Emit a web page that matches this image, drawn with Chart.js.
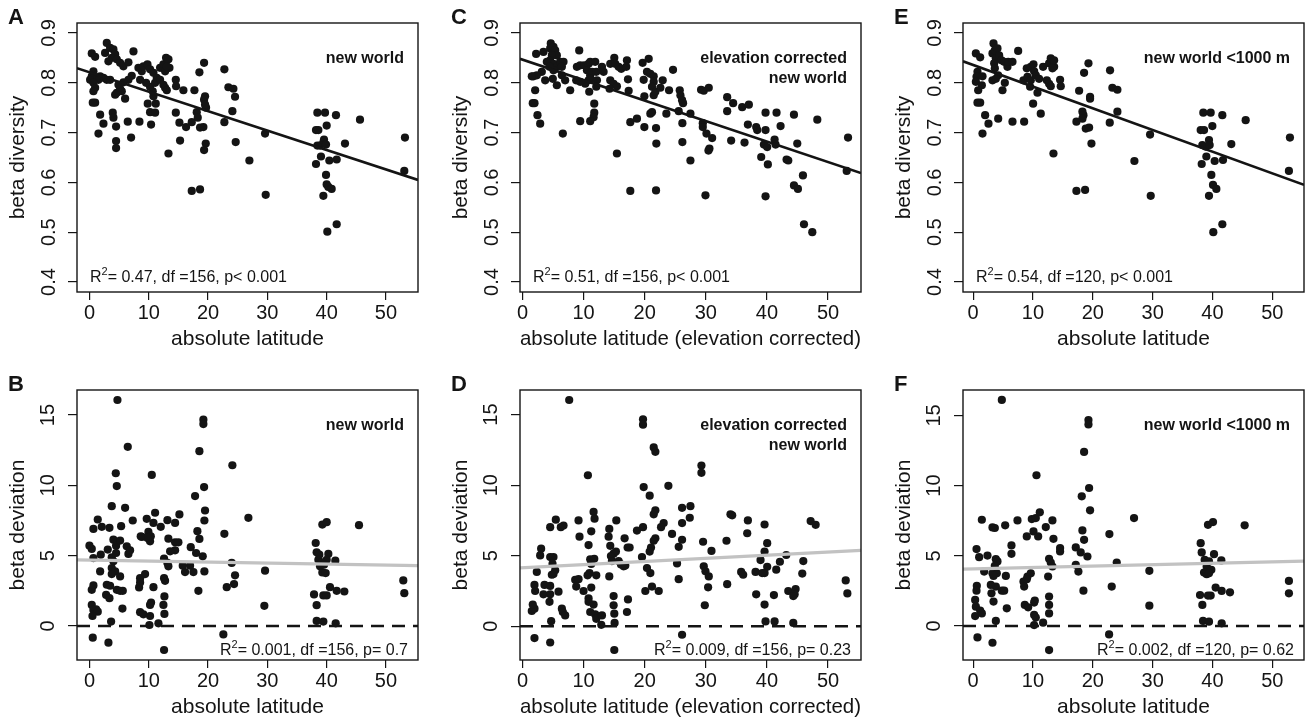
<!DOCTYPE html>
<html>
<head>
<meta charset="utf-8">
<title>beta diversity vs latitude</title>
<script src="https://cdn.jsdelivr.net/npm/chart.js@4.4.1/dist/chart.umd.min.js"></script>
<style>
  html, body { margin: 0; padding: 0; background: #fff; overflow: hidden; width: 1306px; height: 720px; }
  canvas { position: absolute; }
</style>
</head>
<body>
<canvas id="cA" width="428" height="356" style="left:0px;top:0px"></canvas>
<canvas id="cC" width="428" height="356" style="left:443px;top:0px"></canvas>
<canvas id="cE" width="428" height="356" style="left:886px;top:0px"></canvas>
<canvas id="cB" width="428" height="364" style="left:0px;top:360px"></canvas>
<canvas id="cD" width="428" height="364" style="left:443px;top:360px"></canvas>
<canvas id="cF" width="428" height="364" style="left:886px;top:360px"></canvas>
<script>
// tick labels
const xTicks = [0, 10, 20, 30, 40, 50];
const betaTicks = [0.4, 0.5, 0.6, 0.7, 0.8, 0.9];
const devTicks = [0, 5, 10, 15];

// A: beta diversity, new world
const latA = [0.39,0.96,2.92,2.64,3.48,4.04,4.33,3.76,3.20,4.61,5.17,5.73,6.57,7.42,7.13,6.57,5.73,4.89,5.17,4.61,
  5.45,6.01,4.33,3.48,2.92,2.36,1.80,1.52,1.24,0.67,0.39,0.11,0.67,0.96,0.67,0.96,0.56,1.80,2.36,1.52,
  3.93,4.04,4.49,4.49,4.49,6.46,7.02,8.43,10.39,10.22,11.07,11.18,9.83,10.79,10.67,10.22,9.55,8.54,8.82,8.26,
  9.10,9.78,10.22,10.79,11.35,11.07,11.91,12.47,12.76,13.04,11.91,12.47,12.92,13.32,13.49,12.76,13.04,14.56,14.61,15.84,
  14.56,15.17,15.28,16.29,17.25,17.70,18.09,18.54,19.33,19.49,19.33,19.66,19.49,18.26,18.65,19.21,19.61,19.33,13.32,17.25,
  18.65,22.75,23.43,24.27,24.55,24.10,22.75,24.66,26.97,29.61,29.72,38.43,39.72,40.00,41.57,45.62,38.20,38.60,39.55,39.44,
  38.88,38.43,39.89,43.09,39.04,38.20,40.45,41.69,39.89,40.00,40.28,40.84,39.44,40.11,41.69,53.20,53.09];
const betaA = [0.859,0.852,0.880,0.860,0.870,0.867,0.857,0.850,0.843,0.847,0.840,0.833,0.841,0.863,0.814,0.806,0.801,0.796,0.788,0.780,
  0.783,0.768,0.776,0.806,0.806,0.810,0.813,0.806,0.810,0.823,0.813,0.806,0.800,0.790,0.783,0.760,0.760,0.736,0.718,0.698,
  0.740,0.730,0.712,0.683,0.669,0.722,0.690,0.722,0.716,0.741,0.740,0.758,0.758,0.773,0.783,0.792,0.800,0.806,0.823,0.830,
  0.833,0.837,0.827,0.820,0.810,0.800,0.806,0.796,0.790,0.785,0.830,0.837,0.850,0.847,0.830,0.823,0.833,0.806,0.793,0.785,
  0.740,0.720,0.684,0.711,0.721,0.785,0.741,0.821,0.840,0.773,0.766,0.750,0.756,0.730,0.710,0.711,0.678,0.665,0.658,0.583,
  0.586,0.827,0.791,0.788,0.772,0.743,0.721,0.681,0.644,0.698,0.575,0.740,0.740,0.714,0.735,0.726,0.705,0.705,0.686,0.680,
  0.674,0.674,0.676,0.678,0.652,0.637,0.644,0.646,0.615,0.596,0.591,0.587,0.573,0.501,0.516,0.690,0.623];

// B: beta deviation, new world
const latB = [4.72,6.46,4.44,4.61,3.76,6.01,5.34,7.30,1.40,0.67,2.08,3.37,10.51,9.66,11.07,10.79,12.02,8.82,9.94,10.22,
  10.34,13.15,14.44,15.17,14.44,14.44,13.31,13.60,17.81,19.33,18.54,19.21,19.21,19.49,19.38,18.20,18.54,17.08,17.98,19.10,
  15.00,22.75,24.10,26.80,23.99,24.55,23.15,24.38,29.61,29.49,22.58,45.45,39.27,40.00,38.15,38.31,38.76,40.28,38.60,40.00,
  39.16,41.46,38.88,39.55,39.27,39.83,40.56,41.69,42.98,37.87,39.44,40.00,38.31,38.31,39.44,41.52,52.92,53.09,0.00,0.39,
  0.67,1.91,3.09,3.76,4.04,4.49,4.04,4.49,5.17,6.29,6.57,6.85,3.76,4.33,3.76,5.17,1.80,4.61,5.17,5.62,
  2.92,3.48,2.81,3.37,0.39,0.67,0.39,0.67,1.12,1.40,0.51,3.65,0.56,3.20,5.56,8.54,8.37,8.54,9.38,10.79,
  10.39,10.22,8.54,9.10,10.22,10.11,11.63,12.58,12.75,13.31,13.15,12.58,12.64,12.47,12.64,12.58,15.73,16.12,16.97,17.53,
  18.37,19.38,9.78,8.65];
const devB = [16.07,12.74,10.86,9.95,8.52,8.40,7.10,7.50,7.57,6.90,7.05,6.98,10.74,7.62,8.05,7.33,7.05,6.33,6.69,6.02,
  6.38,7.52,7.33,7.93,5.95,5.38,6.21,5.31,9.24,9.88,12.43,14.67,14.36,8.21,7.50,6.74,6.19,5.60,5.19,4.95,
  5.95,6.55,11.43,7.69,4.48,3.60,2.76,2.98,3.93,1.43,-0.60,7.17,7.21,7.38,5.90,5.24,5.07,5.12,4.71,4.71,
  4.52,4.64,4.24,4.36,3.81,3.76,2.76,2.50,2.45,2.24,2.17,2.17,1.48,0.36,0.31,0.19,3.24,2.33,5.71,5.48,
  4.83,5.07,5.43,4.88,4.60,5.19,6.14,5.71,6.07,5.67,5.12,5.38,4.12,3.88,3.69,3.52,3.88,2.57,2.50,2.50,
  2.93,2.86,2.21,1.98,2.57,2.88,1.50,1.14,1.19,1.02,0.71,0.31,-0.83,-1.19,1.24,3.40,2.74,3.10,3.69,2.76,
  1.67,1.50,0.98,0.83,0.71,0.07,0.19,3.40,3.21,4.24,4.48,4.79,2.10,1.50,0.86,-1.71,4.29,3.83,4.29,3.83,
  2.50,3.88,6.26,6.38];

// C: beta diversity, elevation corrected
const latC = [2.24,3.44,4.64,4.54,5.08,5.36,5.63,4.81,4.54,5.08,5.63,6.17,6.72,6.45,5.08,3.99,4.43,4.97,5.63,6.45,
  6.99,7.81,3.72,3.17,2.35,1.80,1.53,2.08,1.69,1.97,2.46,2.90,6.61,9.29,8.91,9.45,10.11,10.82,11.09,11.91,
  10.55,11.09,11.37,10.82,10.27,9.45,8.80,11.09,12.08,12.19,12.08,10.93,11.75,11.75,11.64,11.09,9.45,13.01,13.28,14.37,
  15.03,15.19,15.74,16.17,17.10,16.99,14.37,14.92,15.46,14.26,17.27,17.38,15.46,17.65,18.74,17.65,19.67,20.66,20.38,20.93,
  21.48,19.84,21.48,21.20,21.48,21.75,19.95,20.93,21.20,19.95,21.86,21.91,21.86,22.95,22.57,23.55,23.99,24.64,25.74,25.85,
  26.12,26.28,25.57,26.17,26.17,27.49,27.49,29.23,29.67,30.49,29.51,29.51,30.11,31.04,30.60,30.44,29.95,33.50,34.48,33.50,
  35.96,37.05,34.15,36.34,36.89,38.25,38.42,39.78,39.78,41.58,42.24,44.43,44.97,48.25,41.26,41.42,39.51,40.05,39.07,40.16,
  39.78,43.22,43.50,45.90,44.43,45.08,46.07,47.43,53.28,53.06];
const betaC = [0.858,0.862,0.879,0.869,0.872,0.865,0.855,0.855,0.845,0.838,0.832,0.842,0.842,0.832,0.825,0.842,0.832,0.808,0.795,0.815,
  0.805,0.785,0.805,0.822,0.815,0.813,0.813,0.785,0.759,0.759,0.735,0.718,0.698,0.865,0.832,0.835,0.835,0.838,0.842,0.842,
  0.825,0.815,0.822,0.805,0.798,0.802,0.805,0.808,0.822,0.805,0.792,0.782,0.758,0.740,0.731,0.723,0.723,0.832,0.822,0.838,
  0.850,0.838,0.832,0.828,0.845,0.832,0.805,0.798,0.793,0.788,0.807,0.784,0.658,0.721,0.728,0.583,0.840,0.848,0.822,0.818,
  0.813,0.806,0.802,0.792,0.775,0.782,0.773,0.738,0.741,0.711,0.709,0.678,0.584,0.805,0.790,0.738,0.785,0.826,0.785,0.775,
  0.765,0.759,0.743,0.719,0.681,0.738,0.644,0.786,0.784,0.790,0.719,0.711,0.698,0.689,0.668,0.664,0.574,0.771,0.759,0.743,
  0.751,0.756,0.684,0.680,0.716,0.711,0.705,0.740,0.705,0.740,0.713,0.736,0.678,0.726,0.686,0.676,0.676,0.671,0.651,0.636,
  0.572,0.646,0.644,0.614,0.594,0.587,0.516,0.500,0.690,0.623];

// D: beta deviation, elevation corrected
const latD = [7.65,10.71,19.73,19.73,21.48,21.75,29.29,29.29,23.88,19.84,20.82,21.75,21.48,27.49,26.12,26.12,27.38,23.11,22.68,19.73,
  18.74,24.48,26.12,25.57,21.75,21.48,21.04,20.82,19.56,20.38,20.93,21.20,22.30,20.11,25.30,25.57,29.56,30.93,29.67,29.95,
  30.49,30.38,29.84,33.39,34.04,34.32,36.89,36.78,39.62,40.05,39.62,38.96,40.05,39.62,38.14,39.23,35.79,36.12,33.50,38.25,
  39.62,41.15,41.53,42.13,43.17,45.96,45.79,43.50,44.70,44.54,44.32,52.90,53.17,47.16,47.98,39.78,41.26,44.32,3.06,2.90,
  4.54,5.08,4.92,5.36,5.08,4.81,2.35,1.97,2.08,3.61,3.44,4.54,4.54,4.43,5.90,6.45,6.61,6.99,1.53,1.97,
  1.69,4.70,1.97,4.54,4.54,5.46,6.28,6.72,9.18,9.34,8.63,9.18,8.80,10.00,10.82,10.98,11.09,11.75,11.26,10.82,
  11.26,11.64,11.80,10.66,12.08,11.26,10.82,11.64,11.09,11.91,12.08,13.01,12.90,14.21,14.10,14.37,14.92,15.30,15.36,14.48,
  14.64,15.74,16.12,16.56,16.83,17.21,17.54,16.72,14.21,14.92,14.92,15.03,15.08,17.27,17.10,15.03,26.12];
const devD = [16.03,10.70,14.66,14.28,12.67,12.36,11.39,10.87,9.95,9.86,9.25,8.22,7.93,8.51,8.39,7.31,7.69,7.31,7.02,7.02,
  6.78,6.54,6.13,5.63,6.23,6.06,5.58,5.29,4.90,4.13,3.77,2.81,2.50,2.50,4.45,3.34,5.99,5.34,4.25,3.89,
  3.53,2.76,1.49,6.06,7.93,7.86,7.50,6.59,7.21,5.89,5.29,4.69,4.21,3.77,3.85,3.77,3.85,3.65,2.98,2.26,
  1.54,2.21,4.01,4.57,5.05,4.62,3.73,2.50,2.64,2.26,2.14,3.25,2.33,7.45,7.19,0.34,0.34,0.24,5.50,5.02,
  4.90,4.90,4.42,3.97,3.70,3.65,3.85,2.93,2.50,2.93,2.26,2.86,2.26,1.73,2.45,1.25,1.01,0.77,1.08,1.25,
  1.54,0.36,-0.84,-1.15,7.02,7.55,7.02,7.14,7.50,6.35,3.29,3.34,2.81,2.50,1.97,3.77,4.74,4.78,4.42,5.75,
  6.73,8.10,7.62,3.61,3.61,2.74,1.73,1.54,1.01,0.84,0.53,0.77,0.10,6.90,6.35,5.70,5.14,5.29,7.50,4.98,
  4.62,4.62,4.38,4.25,4.30,5.58,5.58,6.23,3.53,2.14,1.49,0.89,0.24,1.90,1.01,-1.68,-0.60];

// E: beta diversity, new world < 1000 m
const latE = [0.45,1.17,0.72,0.56,0.45,1.56,1.45,0.84,0.72,1.17,2.00,2.56,1.56,3.40,3.23,3.62,4.06,3.79,4.34,4.73,
  5.18,3.51,3.62,4.18,3.23,3.79,4.90,5.29,5.73,5.85,6.57,7.52,4.18,6.57,8.52,8.41,8.96,9.63,10.08,10.19,
  10.47,9.52,9.08,9.63,11.02,10.75,10.02,11.30,11.69,12.31,12.69,12.97,12.69,12.97,13.53,13.53,13.25,14.53,14.64,13.42,
  17.71,18.54,19.27,18.26,18.43,18.26,17.26,18.82,19.38,19.54,19.54,19.77,17.26,18.71,22.88,23.27,24.11,24.11,22.83,26.95,
  29.57,29.68,38.47,39.70,38.03,38.59,38.31,38.86,39.42,39.53,39.98,41.65,43.15,45.55,38.98,38.20,40.37,41.76,39.81,40.09,
  40.65,39.42,40.14,41.65,52.95,52.78];
const betaE = [0.859,0.851,0.822,0.812,0.802,0.813,0.795,0.785,0.760,0.760,0.735,0.718,0.698,0.879,0.859,0.865,0.869,0.849,0.855,0.845,
  0.842,0.839,0.829,0.815,0.805,0.808,0.785,0.800,0.832,0.842,0.842,0.864,0.728,0.722,0.722,0.805,0.829,0.832,0.837,0.823,
  0.815,0.792,0.812,0.805,0.808,0.780,0.758,0.738,0.832,0.805,0.798,0.793,0.839,0.849,0.832,0.845,0.829,0.806,0.793,0.658,
  0.784,0.820,0.839,0.742,0.735,0.728,0.722,0.708,0.710,0.772,0.768,0.678,0.583,0.585,0.825,0.790,0.786,0.742,0.720,0.643,
  0.696,0.573,0.740,0.740,0.705,0.705,0.675,0.672,0.685,0.675,0.713,0.735,0.677,0.725,0.652,0.637,0.643,0.645,0.615,0.595,
  0.587,0.573,0.500,0.516,0.690,0.623];

// F: beta deviation, new world < 1000 m
const latF = [4.79,1.45,3.23,3.62,5.35,7.41,6.40,6.40,2.39,0.56,1.00,3.79,4.06,3.62,3.23,3.95,3.40,1.84,5.46,3.79,
  2.95,3.06,3.40,0.61,0.56,0.33,0.45,1.17,1.45,0.33,0.72,3.23,3.79,5.62,4.79,5.18,8.41,8.52,9.08,9.63,
  8.96,8.63,9.19,10.19,10.30,10.19,10.47,10.19,11.69,12.69,9.80,10.47,10.08,10.86,8.96,11.14,10.58,12.14,13.25,13.42,
  12.69,12.97,13.25,12.53,12.69,12.69,12.69,14.53,14.53,17.15,17.98,17.59,17.15,18.26,18.54,19.10,18.43,19.38,18.15,19.54,
  18.54,19.27,19.27,22.77,24.00,23.16,22.72,26.89,29.45,29.45,45.38,39.25,40.09,38.03,38.20,38.70,40.26,39.42,39.03,39.81,
  38.59,39.03,39.42,41.48,40.53,39.70,39.25,37.92,41.54,42.93,38.31,38.42,39.42,41.54,52.78,52.78];
const devF = [16.10,7.57,7.02,6.98,7.17,7.52,5.74,5.14,5.02,5.48,4.90,4.76,4.60,4.29,3.76,3.76,3.57,3.88,3.57,2.81,
  2.93,2.33,1.74,2.86,2.52,1.86,1.38,1.10,0.90,0.71,-0.81,-1.19,0.36,1.26,2.52,2.52,3.17,2.81,3.52,3.76,
  3.33,1.50,1.33,1.67,1.81,0.79,0.60,0.07,0.24,-1.71,7.62,7.69,6.74,6.38,6.38,8.10,10.74,7.05,7.52,6.21,
  4.79,4.52,4.24,3.52,2.10,1.50,0.90,5.55,5.31,5.60,5.24,3.88,4.36,6.81,6.14,4.95,2.52,9.83,9.24,8.24,
  12.40,14.67,14.36,6.55,4.52,2.81,-0.60,7.69,3.93,1.45,7.17,7.21,7.40,5.90,5.24,4.71,5.12,4.60,4.24,4.00,
  3.81,3.69,3.76,4.67,2.74,2.17,2.17,2.21,2.50,2.40,1.50,0.36,0.31,0.19,3.21,2.33];

// fitted lines: [intercept, slope]
const fitA = [0.821, -0.0039];
const fitB = [4.69, -0.0073];
const fitC = [0.8464, -0.00411];
const fitD = [4.14, 0.0224];
const fitE = [0.8357, -0.00435];
const fitF = [4.07, 0.0100];

const FONT = "'Liberation Sans', Arial, Helvetica, sans-serif";
const INK = '#141414';

function fitLine(fit, xMin, xMax) {
  return [xMin, xMax].map(x => ({ x: x, y: fit[0] + fit[1] * x }));
}

// box, panel letter, subset label and fit statistics
const annotate = {
  id: 'annotate',
  afterDatasetsDraw(chart, args, o) {
    const ctx = chart.ctx, a = chart.chartArea;
    ctx.save();
    ctx.strokeStyle = INK;
    ctx.lineWidth = 1.4;
    ctx.strokeRect(a.left, a.top, a.right - a.left, a.bottom - a.top);
    ctx.fillStyle = INK;
    ctx.textBaseline = 'alphabetic';

    ctx.font = 'bold 22px ' + FONT;
    ctx.textAlign = 'left';
    ctx.fillText(o.letter, 8, a.top + 1);

    ctx.font = 'bold 16px ' + FONT;
    ctx.textAlign = 'right';
    o.label.forEach((t, i) => ctx.fillText(t, a.right - 14, a.top + 40 + i * 20));

    ctx.textAlign = 'left';
    const big = '16px ' + FONT, small = '11px ' + FONT;
    ctx.font = big;
    const wR = ctx.measureText('R').width, wRest = ctx.measureText(o.stats).width;
    ctx.font = small;
    const w2 = ctx.measureText('2').width;
    let x = o.statsRight ? a.right - 10 - (wR + w2 + wRest) : a.left + 13;
    const y = o.statsRight ? a.bottom - 5 : a.bottom - 10;
    ctx.font = big;
    ctx.fillText('R', x, y);
    x += wR;
    ctx.font = small;
    ctx.fillText('2', x, y - 7);
    x += w2;
    ctx.font = big;
    ctx.fillText(o.stats, x, y);
    ctx.restore();
  }
};

function makePanel(p) {
  const pts = p.xs.map((x, i) => ({ x: x, y: p.ys[i] }));
  const datasets = [
    { type: 'line', data: fitLine(p.fit, p.xMin, p.xMax), borderColor: p.diversity ? INK : '#c2c2c2',
      borderWidth: p.diversity ? 2.6 : 3.2, pointRadius: 0, fill: false, order: 0 },
    { data: pts, pointRadius: 4.1, pointBackgroundColor: INK, pointBorderWidth: 0, order: 2 }
  ];
  if (!p.diversity) {
    datasets.push({ type: 'line', data: [{ x: p.xMin, y: 0 }, { x: p.xMax, y: 0 }], borderColor: INK,
      borderWidth: 2.6, borderDash: [13, 8], pointRadius: 0, fill: false, order: 1 });
  }
  const yTicks = p.diversity ? betaTicks : devTicks;
  new Chart(document.getElementById(p.id), {
    type: 'scatter',
    data: { datasets: datasets },
    plugins: [annotate],
    options: {
      responsive: false,
      animation: false,
      events: [],
      layout: { padding: { top: p.diversity ? 23 : 30, right: 10, left: 0, bottom: 0 } },
      plugins: {
        legend: { display: false },
        tooltip: { enabled: false },
        annotate: { letter: p.letter, label: p.label, stats: p.stats, statsRight: !p.diversity }
      },
      scales: {
        x: {
          type: 'linear', min: p.xMin, max: p.xMax,
          afterBuildTicks: s => { s.ticks = xTicks.map(v => ({ value: v })); },
          afterFit: s => { s.height = 64; },
          border: { display: false },
          grid: { drawOnChartArea: false, drawTicks: true, tickLength: 8, color: INK, lineWidth: 1.2 },
          ticks: { color: INK, padding: 1.5, font: { family: FONT, size: 20 }, callback: v => String(v) },
          title: { display: true, text: p.xTitle, color: INK, font: { family: FONT, size: 21 }, padding: { top: 0, bottom: 4 } }
        },
        y: {
          type: 'linear', min: p.yMin, max: p.yMax,
          afterBuildTicks: s => { s.ticks = yTicks.map(v => ({ value: v })); },
          afterFit: s => { s.width = 77; },
          border: { display: false },
          grid: { drawOnChartArea: false, drawTicks: true, tickLength: 9, color: INK, lineWidth: 1.2 },
          ticks: { color: INK, minRotation: 90, maxRotation: 90, crossAlign: 'center', padding: p.diversity ? 5 : 8,
                   font: { family: FONT, size: 20 }, callback: v => p.diversity ? v.toFixed(1) : String(v) },
          title: { display: true, text: p.diversity ? 'beta diversity' : 'beta deviation', color: INK,
                   font: { family: FONT, size: 21 }, padding: { top: 6, bottom: 0 } }
        }
      }
    }
  });
}

const latTitle = 'absolute latitude';
const elevTitle = 'absolute latitude (elevation corrected)';

makePanel({ id: 'cA', letter: 'A', diversity: true, xs: latA, ys: betaA, fit: fitA, xMin: -2.1, xMax: 55.4, yMin: 0.38, yMax: 0.92,
  xTitle: latTitle, label: ['new world'], stats: '= 0.47, df =156, p< 0.001' });
makePanel({ id: 'cB', letter: 'B', diversity: false, xs: latB, ys: devB, fit: fitB, xMin: -2.1, xMax: 55.4, yMin: -2.42, yMax: 16.78,
  xTitle: latTitle, label: ['new world'], stats: '= 0.001, df =156, p= 0.7' });
makePanel({ id: 'cC', letter: 'C', diversity: true, xs: latC, ys: betaC, fit: fitC, xMin: -0.4, xMax: 55.4, yMin: 0.38, yMax: 0.92,
  xTitle: elevTitle, label: ['elevation corrected', 'new world'], stats: '= 0.51, df =156, p< 0.001' });
makePanel({ id: 'cD', letter: 'D', diversity: false, xs: latD, ys: devD, fit: fitD, xMin: -0.4, xMax: 55.4, yMin: -2.39, yMax: 16.74,
  xTitle: elevTitle, label: ['elevation corrected', 'new world'], stats: '= 0.009, df =156, p= 0.23' });
makePanel({ id: 'cE', letter: 'E', diversity: true, xs: latE, ys: betaE, fit: fitE, xMin: -1.7, xMax: 55.3, yMin: 0.38, yMax: 0.92,
  xTitle: latTitle, label: ['new world <1000 m'], stats: '= 0.54, df =120, p< 0.001' });
makePanel({ id: 'cF', letter: 'F', diversity: false, xs: latF, ys: devF, fit: fitF, xMin: -1.7, xMax: 55.3, yMin: -2.42, yMax: 16.81,
  xTitle: latTitle, label: ['new world <1000 m'], stats: '= 0.002, df =120, p= 0.62' });
</script>
</body>
</html>
